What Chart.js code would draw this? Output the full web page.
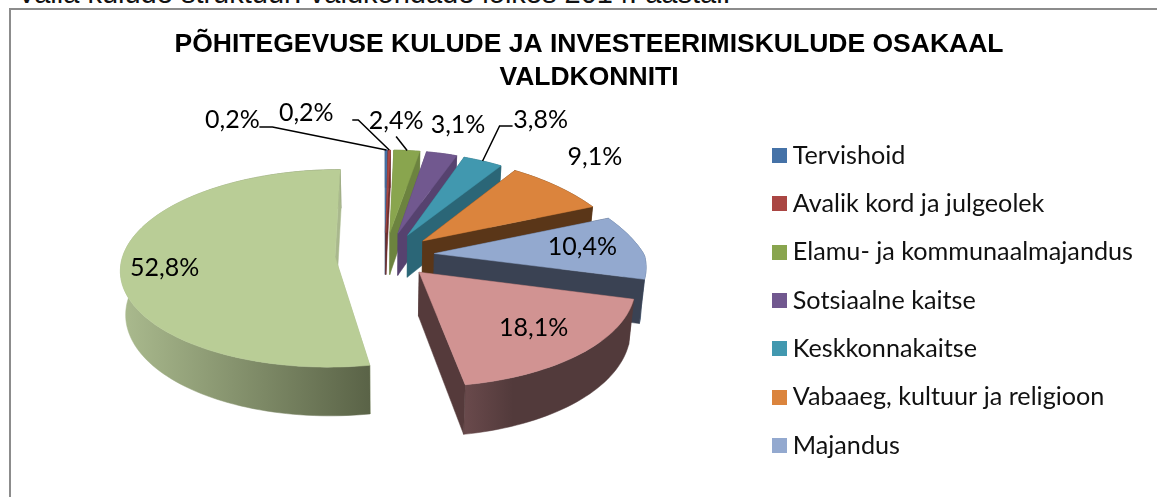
<!DOCTYPE html>
<html lang="et">
<head>
<meta charset="utf-8">
<script src="https://cdn.jsdelivr.net/npm/chart.js@4"></script>
<style>
html,body{margin:0;padding:0;background:#fff;overflow:hidden}
#page{position:relative;width:1157px;height:497px;overflow:hidden}
#caption{position:absolute;left:17px;top:-19px;font:29px/24px "Liberation Sans",Arial,sans-serif;color:#111;white-space:nowrap}
#frame{position:absolute;left:9px;top:8px;width:1160px;height:500px;border-left:2px solid #8c8c8c;border-top:2px solid #8c8c8c}
canvas{position:absolute;left:0;top:0}
</style>
</head>
<body>
<div id="page">
<div id="caption">Valla kulude struktuur: valdkondade lõikes 2014. aastal.</div>
<div id="frame"></div>
<canvas id="c" width="1157" height="497"></canvas>
</div>
<script>
const categories = ["Tervishoid","Avalik kord ja julgeolek","Elamu- ja kommunaalmajandus","Sotsiaalne kaitse","Keskkonnakaitse","Vabaaeg, kultuur ja religioon","Majandus","Üldised valitsussektori teenused","Haridus"];
const shares = [0.2,0.2,2.4,3.1,3.8,9.1,10.4,18.1,52.8];
const shareLabels = ["0,2%","0,2%","2,4%","3,1%","3,8%","9,1%","10,4%","18,1%","52,8%"];
const topColors = ["#4572A7","#AA4643","#89A54E","#71588F","#4198AF","#DB843D","#93A9CF","#D19392","#B9CD96"];
const sideColors = ["#2f4d72","#6e2e2c","#6c833f","#56426f","#2b6677","#5a3618","#3a4253","#553a3b","#a9b88d"];
const wallFrom = ["#2f4d72","#6e2e2c","#6c833f","#56426f","#2b6677","#5a3618","#4a6488","#6a4a4c","#a9b98d"];
const wallTo = ["#2f4d72","#6e2e2c","#6c833f","#56426f","#2b6677","#5a3618","#3f5878","#523a3b","#5a6347"];
const wallStop = [1,1,1,1,1,1,1,0.3,1];
const visibleLegendEntries = 7;

/* label placement relative to each slice's projected rim point */
const labelShift = [[-154,-30],[-83,-37],[-11,-30],[16,-29],[58,-41],[38,-29],[-57,0],[-47,-26],[44,2]];
/* leader polylines relative to the label centre, ending on the rim */
const leaders = [[[27,7],[40,7]],[[46,7],[52,7]],[[0,16]],null,[[-28,6],[-41,6]],null,null,null,null];

const view = {cx:385, cy:255, kx:212, kxRight:210, ky:97, persp:0.115, perspBackRight:0.115, depth:43, baseShrink:0.98, explode:0.236};

function project(u,v,z){
  const extra = v<0 ? -v*view.perspBackRight*Math.max(0,Math.min(1,u*2)) : 0;
  const w = 1 - view.persp*v, wx = w + extra, s = z ? view.baseShrink : 1;
  return [view.cx + (u>0?view.kxRight:view.kx)*u/wx*s, view.cy + (view.ky*v + view.depth*z)/w];
}
function trace(ctx,pts){
  ctx.beginPath();
  pts.forEach((p,i)=> i ? ctx.lineTo(p[0],p[1]) : ctx.moveTo(p[0],p[1]));
  ctx.closePath();
}
function sliceGeometry(arc){
  const a0 = arc.startAngle, a1 = arc.endAngle, mid = (a0+a1)/2;
  const ox = view.explode*Math.cos(mid), oy = view.explode*Math.sin(mid);
  const n = Math.max(2,Math.ceil((a1-a0)/0.03));
  const rim = [];
  for(let i=0;i<=n;i++){
    const a = a0+(a1-a0)*i/n;
    rim.push([ox+Math.cos(a),oy+Math.sin(a)]);
  }
  return {ox,oy,rim,mid};
}
const pie3d = {
  id:'pie3d',
  afterLayout(chart){
    const lg = chart.legend;
    lg.top += 38; lg.bottom += 38;
  },
  beforeDatasetDraw(chart,args){
    const ctx = chart.ctx, meta = args.meta;
    meta.data.forEach((arc,i)=>{
      const g = sliceGeometry(arc);
      const apexTop = project(g.ox,g.oy,0), apexBase = project(g.ox,g.oy,1);
      const top = g.rim.map(p=>project(p[0],p[1],0));
      const base = g.rim.map(p=>project(p[0],p[1],1));
      ctx.save();
      ctx.fillStyle = ctx.strokeStyle = sideColors[i];
      ctx.lineWidth = 0.5;
      trace(ctx,[apexTop,top[0],base[0],apexBase]); ctx.fill(); ctx.stroke();
      const xs = base.map(p=>p[0]);
      const grad = ctx.createLinearGradient(Math.min(...xs),0,Math.max(...xs),0);
      grad.addColorStop(0,wallFrom[i]); grad.addColorStop(wallStop[i],wallTo[i]);
      ctx.fillStyle = ctx.strokeStyle = grad;
      trace(ctx,top.concat(base.slice().reverse())); ctx.fill(); ctx.stroke();
      ctx.fillStyle = ctx.strokeStyle = sideColors[i];
      const l = top.length-1;
      trace(ctx,[apexTop,top[l],base[l],apexBase]); ctx.fill(); ctx.stroke();
      ctx.fillStyle = ctx.strokeStyle = topColors[i];
      trace(ctx,[apexTop].concat(top)); ctx.fill(); ctx.stroke();
      ctx.restore();
    });
    return false;
  },
  afterDatasetsDraw(chart){
    const ctx = chart.ctx;
    ctx.save();
    ctx.font = '25px Lato, sans-serif';
    ctx.textAlign = 'center'; ctx.textBaseline = 'middle';
    chart.getDatasetMeta(0).data.forEach((arc,i)=>{
      const g = sliceGeometry(arc);
      const a = project(g.ox+Math.cos(g.mid),g.oy+Math.sin(g.mid),0);
      const lx = a[0]+labelShift[i][0], ly = a[1]+labelShift[i][1];
      ctx.fillStyle = '#000';
      ctx.fillText(shareLabels[i],lx,ly);
      if(leaders[i]){
        ctx.strokeStyle = '#000'; ctx.lineWidth = 1.5;
        ctx.beginPath();
        leaders[i].forEach((p,k)=> k ? ctx.lineTo(lx+p[0],ly+p[1]) : ctx.moveTo(lx+p[0],ly+p[1]));
        ctx.lineTo(a[0],a[1]);
        ctx.stroke();
      }
    });
    ctx.restore();
  }
};
function swatch(color){
  const s = document.createElement('canvas');
  s.width = 15; s.height = 15;
  const c = s.getContext('2d');
  c.fillStyle = color; c.fillRect(0,0,15,15);
  return s;
}
new Chart(document.getElementById('c'),{
  type:'pie',
  data:{labels:categories,datasets:[{data:shares,backgroundColor:topColors,borderWidth:0}]},
  plugins:[pie3d],
  options:{
    responsive:false,animation:false,
    layout:{padding:{top:28,right:14,bottom:0,left:35}},
    plugins:{
      tooltip:{enabled:false},
      title:{display:true,text:["PÕHITEGEVUSE KULUDE JA INVESTEERIMISKULUDE OSAKAAL","VALDKONNITI"],
        color:'#000',font:{family:'"Liberation Sans",Arial,sans-serif',size:26.5,weight:'bold',lineHeight:1.25},padding:{top:0,bottom:10}},
      legend:{position:'right',align:'center',
        labels:{usePointStyle:true,pointStyleWidth:2,boxHeight:15,padding:23.1,color:'#111',font:{family:'Lato, sans-serif',size:25.2},
          generateLabels(chart){
            return Chart.overrides.pie.plugins.legend.labels.generateLabels(chart).map((it,i)=>Object.assign(it,{pointStyle:swatch(topColors[i])}));
          },
          filter:(item)=>item.index<visibleLegendEntries}}
    }
  }
});
</script>
</body>
</html>
